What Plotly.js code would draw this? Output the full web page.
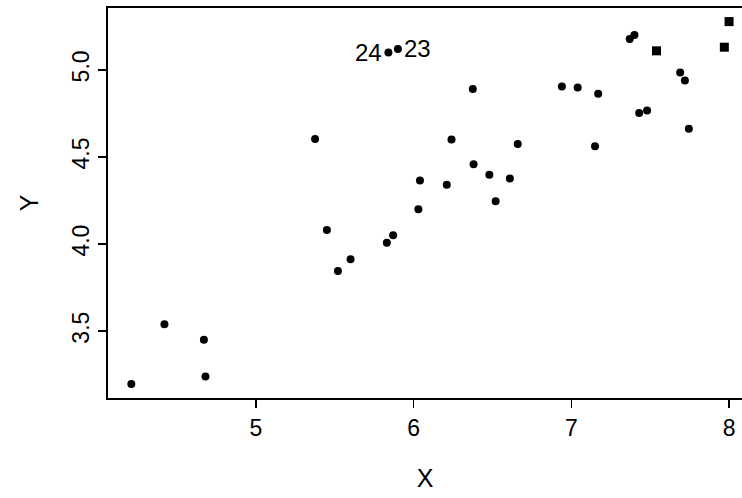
<!DOCTYPE html>
<html>
<head>
<meta charset="utf-8">
<script src="https://cdn.plot.ly/plotly-3.0.1.min.js"></script>
<style>body{margin:0;background:#fff}</style>
</head>
<body>
<div id="plot" style="width:742px;height:498px"></div>
<script>
const dotX = [4.21, 4.42, 4.67, 4.68, 5.375, 5.45, 5.52, 5.60, 5.83, 5.87, 5.84, 5.90,
  6.03, 6.04, 6.21, 6.24, 6.375, 6.38, 6.48, 6.52, 6.61, 6.66, 6.94, 7.04, 7.15, 7.17,
  7.37, 7.40, 7.43, 7.48, 7.69, 7.72, 7.745];
const dotY = [3.197, 3.54, 3.45, 3.24, 4.603, 4.08, 3.845, 3.912, 4.008, 4.05, 5.10, 5.12,
  4.20, 4.365, 4.34, 4.60, 4.89, 4.458, 4.397, 4.246, 4.376, 4.574, 4.905, 4.899, 4.561, 4.863,
  5.177, 5.20, 4.752, 4.767, 4.985, 4.939, 4.662];
const sqX = [7.54, 7.97, 8.00];
const sqY = [5.109, 5.13, 5.277];
const labX = [5.84, 5.90];
const labY = [5.10, 5.12];
const labText = ['24', '23'];

const FONT = 'Liberation Sans, Arial, sans-serif';

const traces = [
  {x: dotX, y: dotY, type: 'scatter', mode: 'markers',
   marker: {color: '#000', size: 8, symbol: 'circle'}},
  {x: sqX, y: sqY, type: 'scatter', mode: 'markers',
   marker: {color: '#000', size: 9, symbol: 'square'}}
];

const annotations = labX.map((x, i) => ({
  x: x, y: labY[i], text: labText[i], showarrow: false,
  xanchor: i === 0 ? 'right' : 'left', xshift: i === 0 ? -4 : 4,
  font: {family: FONT, size: 24, color: '#000'}
}));

const axisBase = {
  showgrid: false, zeroline: false, showline: true, mirror: true,
  linecolor: '#000', linewidth: 2, ticks: 'outside', ticklen: 8,
  tickwidth: 1.5, tickcolor: '#000',
  tickfont: {family: FONT, size: 23, color: '#000'}
};

const layout = {
  width: 742, height: 498, showlegend: false,
  paper_bgcolor: '#fff', plot_bgcolor: '#fff',
  margin: {l: 108, r: 0, t: 8, b: 100},
  annotations: annotations,
  xaxis: Object.assign({}, axisBase, {
    range: [4.062, 8.082], tickvals: [5, 6, 7, 8],
    title: {text: 'X', standoff: 30, font: {family: FONT, size: 25, color: '#000'}}
  }),
  yaxis: Object.assign({}, axisBase, {
    range: [3.116, 5.355], tickvals: [3.5, 4.0, 4.5, 5.0], ticktext: ['3.5', '4.0', '4.5', '5.0'],
    tickangle: -90,
    title: {text: 'Y', standoff: 22, font: {family: FONT, size: 25, color: '#000'}}
  })
};

Plotly.newPlot('plot', traces, layout, {staticPlot: true});
</script>
</body>
</html>
